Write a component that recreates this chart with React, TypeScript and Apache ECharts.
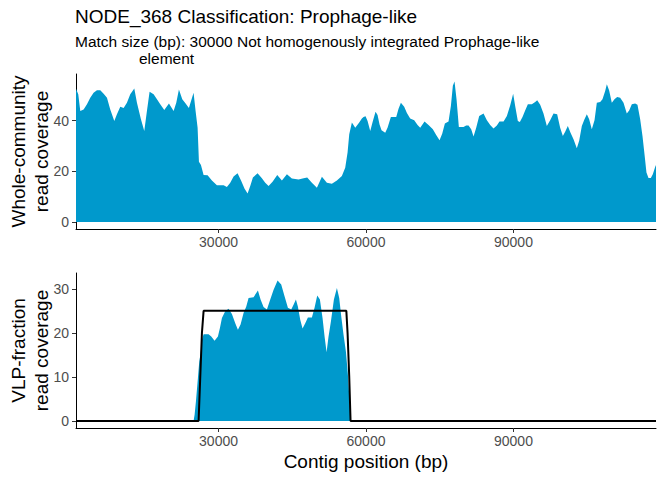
import React, { useEffect, useRef } from "react";
import * as echarts from "echarts";

// contig positions (bp) and whole-community read coverage
const wholePos = [
  1000, 1460, 1870, 2550, 3230, 3900, 4580, 5260, 5940, 6620, 7300, 7970, 8790, 9330,
  10010, 10690, 11360, 12040, 12860, 13400, 14210, 14890, 15430, 15970, 16790, 17470,
  18140, 18960, 19910, 20860, 21400, 21940, 22620, 23300, 23970, 24920, 25330, 25740,
  26010, 26420, 26960, 27770, 28650, 29670, 30010, 31030, 31700, 32380, 33060, 33870,
  34620, 35300, 35910, 36450, 36990, 37940, 38820, 39500, 40180, 40990, 41940, 42890,
  43910, 44920, 46280, 47090, 48040, 48990, 50010, 51030, 52040, 53060, 54080, 55090,
  55770, 56250, 56590, 57130, 57810, 58620, 59160, 59500, 59910, 60320, 60860, 61400,
  61940, 62350, 62760, 63160, 63910, 64380, 65060, 66150, 66620, 67100, 67770, 68320,
  68990, 69810, 70490, 71030, 71910, 72720, 73600, 74280, 74960, 75500, 76050, 76790,
  77270, 77670, 78010, 78420, 78890, 79840, 80380, 80860, 81400, 81880, 82420, 83030,
  83910, 84590, 85270, 85940, 86620, 87160, 87980, 88660, 89330, 89940, 90350, 90890,
  91300, 91840, 92380, 92930, 93740, 94420, 94830, 95440, 96110, 96790, 97470, 98150,
  98890, 99500, 100050, 100520, 101060, 101610, 102220, 102890, 103370, 103910, 104450,
  104930, 105400, 105940, 106490, 106960, 107640, 108110, 108660, 109000, 109470, 110010,
  110550, 111100, 111710, 112390, 113060, 113540, 114080, 114760, 115230, 115780, 116250,
  116660, 117060, 117470, 117950, 118350, 118830, 119000,
];
const wholeCov = [
  52.6, 50.4, 43.8, 44.4, 46.4, 49, 51, 52, 52, 50.6, 49, 44.4, 39.8, 42.5,
  45.5, 45, 47, 50.4, 52.7, 47, 40.5, 35.9, 43.8, 51.4, 50.4, 48.4,
  46.4, 44.2, 46.7, 43.8, 47, 52.3, 48.4, 46.7, 45, 51, 43.8, 37.2,
  23.8, 22.5, 18.5, 18.4, 16.4, 14.5, 14.5, 14.5, 13.8, 15.5, 17.9, 19.2,
  16.2, 13.1, 11.2, 14.2, 17.5, 19.2, 17.2, 15.5, 14.2, 15.9, 18.5, 16.4,
  18.8, 17.1, 16.8, 17.1, 17.5, 15.5, 13.5, 17.8, 15.5, 15.1, 16.4, 18.1,
  21.4, 27.4, 34.6, 39.2, 37.2, 39.2, 40.8, 41.4, 41.7, 39.8, 35.9, 39.8,
  43.5, 42.2, 38.5, 36.2, 35.2, 37.2, 41.4, 41.4, 44.7, 47, 45.5, 43,
  40.8, 40.1, 38.3, 37.2, 39.6, 38.3, 36.6, 34.3, 32.2, 34.8, 38.8, 39.6,
  45.8, 53.7, 55.4, 48.4, 37.5, 37.5, 38.1, 38.1, 36.6, 33.7, 37.2, 41.8,
  42.8, 40.1, 38.3, 36.9, 38.1, 39.6, 39.6, 41.8, 46, 50.6, 45.8, 39.8,
  39.4, 41.4, 44, 46.4, 46.4, 47.3, 48, 46.2, 42.8, 37.9, 40.1, 42.8,
  42.5, 37.2, 33.9, 35.6, 37.9, 35.2, 32.6, 29.1, 32, 37.9, 40.5,
  42.5, 40.5, 36.6, 40.1, 47, 47.3, 48.4, 51.7, 54.3, 51.9, 47,
  48.4, 49.3, 49, 47, 42.8, 44, 46.4, 46.7, 46.2, 40.5, 33.9,
  26.7, 19.5, 17.3, 17.3, 18.8, 21.7, 22.5,
];

// VLP-fraction read coverage
const vlpPos = [
  1000, 24920, 25130, 25400, 25800, 26080, 26350, 26620, 26960, 27970, 28520, 29190,
  29870, 30280, 30690, 31360, 32040, 32720, 33400, 33940, 34480, 35090, 35640, 36110,
  37130, 38010, 38550, 39160, 39840, 40520, 41200, 42010, 42750, 43430, 44110, 44790,
  45260, 45740, 46140, 46620, 47090, 47640, 48180, 48990, 49530, 50080, 50620, 51160,
  51570, 51980, 52380, 52860, 53470, 54080, 54550, 54960, 55430, 55910, 56320, 56720,
  56930, 119000,
];
const vlpCov = [
  0, 0, 1.4, 4.4, 9.7, 13.5, 15.4, 18.5, 19.7, 19.7, 19.2, 18.2,
  19.2, 21.1, 23.4, 24.9, 25.5, 24.3, 22.2, 20.7, 21.9, 24.5, 26, 27.9,
  28.1, 29.6, 27.6, 25.9, 25.3, 27.6, 29.8, 31.9, 31, 28.3, 25.7, 25.3,
  26.4, 27.6, 26, 23, 21, 22.2, 23.5, 23.5, 25.7, 28.5, 27.6, 23.4,
  19.2, 15.6, 19.2, 22.6, 27.6, 30.2, 27.9, 23.8, 19.6, 15.8, 10.5, 3.6,
  0, 0,
];

// prophage-like element outline
const elemPos = [1000, 25940, 26280, 26620, 26960, 56000, 56250, 56590, 56860, 119000];
const elemCov = [0, 0, 10, 20, 25, 25, 20, 10, 0, 0];

const xTicks = [30000, 60000, 90000];
const topTicks = [0, 20, 40];
const bottomTicks = [0, 10, 20, 30];

const FONT = "'Liberation Sans', Arial, sans-serif";
const FILL = "#0099CC";

const pairs = (xs: number[], ys: number[]) => xs.map((x, i) => [x, ys[i]]);

const xAxisFor = (gridIndex: number) => ({
  type: "value",
  gridIndex,
  min: 1000,
  max: 119000,
  axisLine: { show: true, onZero: false, lineStyle: { color: "#000", width: 1 } },
  axisTick: { show: true, length: 4, customValues: xTicks, lineStyle: { color: "#333" } },
  axisLabel: {
    customValues: xTicks,
    formatter: (v: number) => String(v),
    color: "#4D4D4D",
    fontSize: 14,
    fontFamily: FONT,
    margin: 6,
  },
  splitLine: { show: false },
});

const yAxisFor = (gridIndex: number, min: number, max: number, ticks: number[]) => ({
  type: "value",
  gridIndex,
  min,
  max,
  axisLine: { show: true, onZero: false, lineStyle: { color: "#000", width: 1 } },
  axisTick: { show: true, length: 4, customValues: ticks, lineStyle: { color: "#333" } },
  axisLabel: { customValues: ticks, color: "#4D4D4D", fontSize: 14, fontFamily: FONT, margin: 7 },
  splitLine: { show: false },
});

const label = (text: string, x: number, y: number, size: number, opts: any = {}) => ({
  type: "text",
  x,
  y,
  rotation: opts.rotation || 0,
  style: {
    text,
    fill: "#000",
    fontSize: size,
    fontFamily: FONT,
    align: opts.align || "center",
    verticalAlign: "middle",
  },
});

const App: React.FC = () => {
  const chartRef = useRef<HTMLDivElement>(null);

  useEffect(() => {
    const chart = echarts.init(chartRef.current!, null, { renderer: "svg" });

    const options = {
      animation: false,
      backgroundColor: "#fff",
      grid: [
        { left: 76, right: 16, top: 74, height: 155 },
        { left: 76, right: 16, top: 273, height: 155 },
      ],
      xAxis: [xAxisFor(0), xAxisFor(1)],
      yAxis: [yAxisFor(0, -2.78, 58.38, topTicks), yAxisFor(1, -1.6, 33.6, bottomTicks)],
      graphic: [
        label("NODE_368 Classification: Prophage-like", 75, 16.5, 19, { align: "left" }),
        label("Match size (bp): 30000 Not homogenously integrated Prophage-like", 75, 41.5, 15.5, { align: "left" }),
        label("element", 139, 58, 15.5, { align: "left" }),
        label("Whole-community", 18.5, 151.5, 19, { rotation: Math.PI / 2 }),
        label("read coverage", 41, 151.5, 19, { rotation: Math.PI / 2 }),
        label("VLP-fraction", 18.5, 350.5, 19, { rotation: Math.PI / 2 }),
        label("read coverage", 41, 350.5, 19, { rotation: Math.PI / 2 }),
        label("Contig position (bp)", 366, 461.5, 19),
      ],
      series: [
        {
          type: "line",
          xAxisIndex: 0,
          yAxisIndex: 0,
          data: pairs(wholePos, wholeCov),
          symbol: "none",
          lineStyle: { width: 0 },
          areaStyle: { color: FILL, opacity: 1 },
          silent: true,
        },
        {
          type: "line",
          xAxisIndex: 1,
          yAxisIndex: 1,
          data: pairs(vlpPos, vlpCov),
          symbol: "none",
          lineStyle: { width: 0 },
          areaStyle: { color: FILL, opacity: 1 },
          silent: true,
        },
        {
          type: "line",
          xAxisIndex: 1,
          yAxisIndex: 1,
          data: pairs(elemPos, elemCov),
          symbol: "none",
          lineStyle: { color: "#000", width: 2 },
          z: 5,
          silent: true,
        },
      ],
    };

    chart.setOption(options);

    return () => {
      chart.dispose();
    };
  }, []);

  return (
    <div
      ref={chartRef}
      style={{ position: "fixed", left: 0, top: 0, width: 672, height: 480 }}
    ></div>
  );
};

export default App;
